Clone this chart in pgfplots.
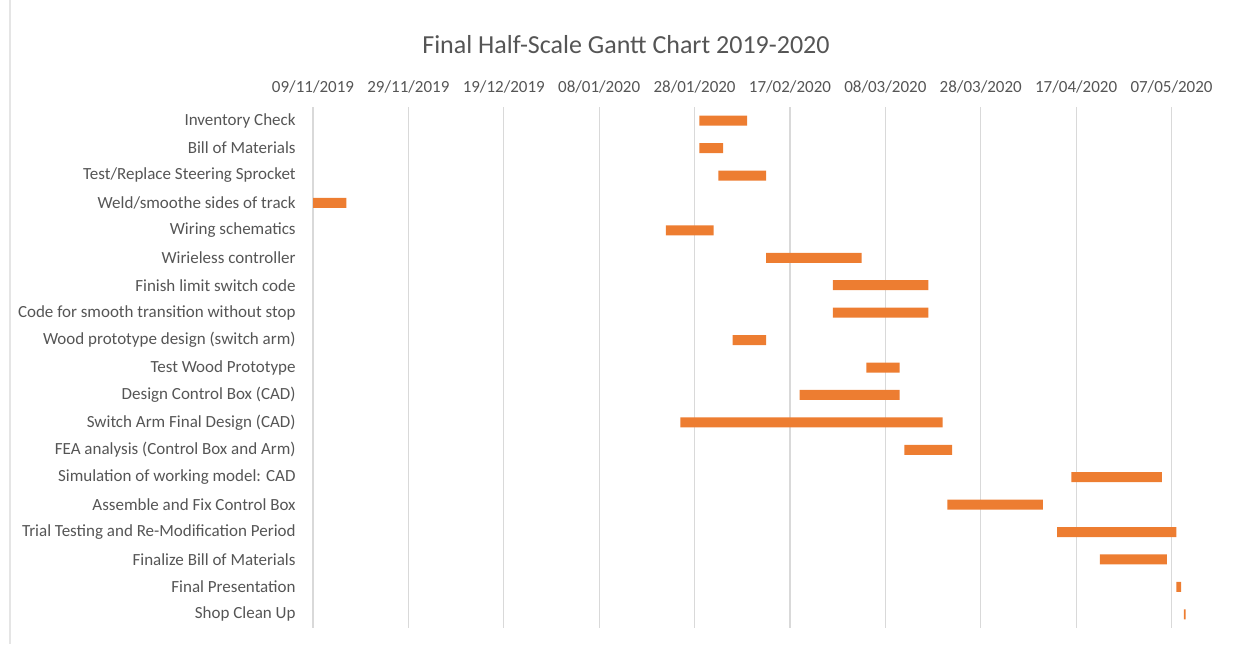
\documentclass[border=0pt]{standalone}
\usepackage{pgfplots}
\pgfplotsset{compat=1.18}
\usepackage{fontspec}
\setmainfont{Carlito}
\definecolor{exorange}{HTML}{ED7D31}
\definecolor{txtgray}{HTML}{555555}
\definecolor{gridgray}{HTML}{D9D9D9}
\pgfplotstableread{
idx start dur
0 81 10
1 81 5
2 85 10
3 0 7
4 74 10
5 95 20
6 109 20
7 109 20
8 88 7
9 116 7
10 102 21
11 77 55
12 124 10
13 159 19
14 133 20
15 156 25
16 165 14
17 181 1
18 182.6 0.35
}\tasks
\begin{document}
\begin{tikzpicture}
\path[use as bounding box] (0,0) rectangle (622.5pt,324pt);
\draw[gray!20, line width=0.6pt] (5pt,2pt) -- (5pt,324pt);
\node[text=txtgray, font=\fontsize{13}{15}\selectfont] at (313pt,301.5pt) {Final Half-Scale Gantt Chart 2019-2020};
\begin{axis}[
  at={(156.5pt,10pt)}, anchor=south west,
  scale only axis, width=438.8pt, height=260.5pt,
  xmin=0, xmax=184, ymin=-0.5, ymax=18.5, y dir=reverse,
  xbar stacked, bar width=5pt,
  axis line style={draw=none},
  major tick length=0pt,
  xmajorgrids, grid style={gridgray, line width=0.6pt},
  xtick={0,20,...,180},
  xticklabels={09/11/2019,29/11/2019,19/12/2019,08/01/2020,28/01/2020,17/02/2020,08/03/2020,28/03/2020,17/04/2020,07/05/2020},
  xticklabel pos=top,
  xticklabel style={anchor=center, yshift=10pt, text=txtgray, font=\fontsize{8.5}{10}\selectfont},
  ytick={0,...,18},
  yticklabels={{Inventory Check},{Bill of Materials},{Test/Replace Steering Sprocket},{Weld/smoothe sides of track},{Wiring schematics},{Wirieless controller},{Finish limit switch code},{Code for smooth transition without stop},{Wood prototype design (switch arm)},{Test Wood Prototype},{Design Control Box (CAD)},{Switch Arm Final Design (CAD)},{FEA analysis (Control Box and Arm)},{Simulation of working model: CAD},{Assemble and Fix Control Box},{Trial Testing and Re-Modification Period},{Finalize Bill of Materials},{Final Presentation},{Shop Clean Up}},
  yticklabel style={anchor=east, inner sep=0pt, xshift=-8.5pt, text=txtgray, font=\fontsize{8.5}{10}\selectfont},
  clip=false,
]
\addplot[draw=none, fill=none] table[x=start, y=idx] {\tasks};
\addplot[draw=none, fill=exorange] table[x=dur, y=idx] {\tasks};
\end{axis}
\end{tikzpicture}
\end{document}
